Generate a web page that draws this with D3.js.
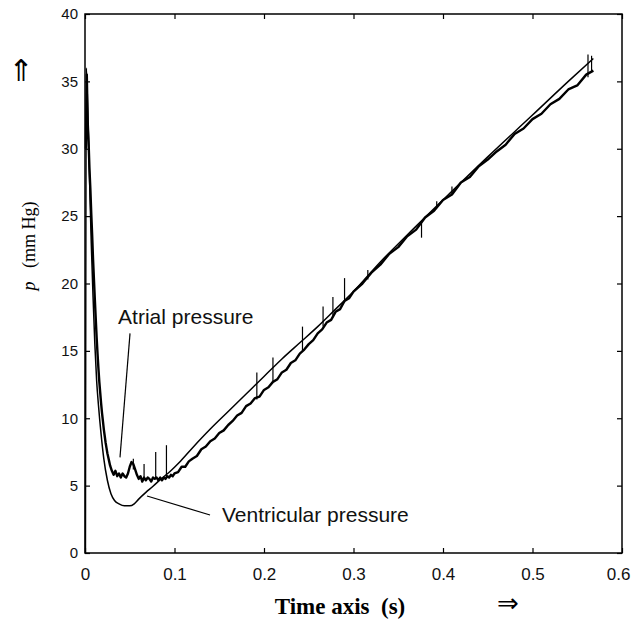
<!DOCTYPE html>
<html>
<head>
<meta charset="utf-8">
<script src="https://cdn.jsdelivr.net/npm/d3@7"></script>
<style>
  body { margin: 0; background: #fff; }
  svg { display: block; }
</style>
</head>
<body>
<svg id="chart" width="632" height="620" viewBox="0 0 632 620"></svg>
<script>
// --- data (time in s, pressure in mm Hg) ---
const xTicks = [0, 0.1, 0.2, 0.3, 0.4, 0.5, 0.6];
const yTicks = [0, 5, 10, 15, 20, 25, 30, 35, 40];

// ventricular pressure (smooth trace)
const ventT = [0.0005, 0.0015, 0.003, 0.005, 0.007, 0.009, 0.011, 0.013, 0.015, 0.018, 0.021, 0.025, 0.029, 0.033, 0.038, 0.044, 0.050, 0.055, 0.060, 0.068, 0.076, 0.085, 0.095, 0.105, 0.120, 0.140, 0.160, 0.180, 0.200, 0.220, 0.240, 0.260, 0.280, 0.300, 0.330, 0.360, 0.400, 0.450, 0.500, 0.540, 0.568];
const ventP = [0.0, 36.0, 33.0, 28.0, 23.0, 19.0, 15.5, 12.8, 11.0, 8.8, 7.0, 5.4, 4.4, 3.9, 3.65, 3.5, 3.5, 3.65, 4.0, 4.5, 4.95, 5.5, 6.05, 6.7, 7.8, 9.2, 10.5, 11.8, 13.1, 14.4, 15.6, 16.8, 18.1, 19.4, 21.6, 23.6, 26.2, 29.4, 32.5, 35.0, 36.7];

// atrial pressure (noisy trace)
const atrT = [0.001, 0.002, 0.003, 0.004, 0.005, 0.006, 0.007, 0.008, 0.009, 0.010, 0.011, 0.012, 0.013, 0.014, 0.015, 0.016, 0.017, 0.018, 0.019, 0.020, 0.021, 0.022, 0.023, 0.024, 0.025, 0.026, 0.027, 0.028, 0.029, 0.030,
  0.032, 0.034, 0.036, 0.038, 0.040, 0.042, 0.044, 0.046, 0.048, 0.050, 0.052, 0.054, 0.056, 0.058, 0.060, 0.062, 0.064, 0.066, 0.068, 0.070, 0.072, 0.074, 0.076, 0.078, 0.080, 0.082, 0.084, 0.086, 0.088, 0.090, 0.092, 0.094, 0.096, 0.098, 0.100,
  0.104, 0.108, 0.112, 0.116, 0.120, 0.125, 0.130, 0.135, 0.140, 0.145, 0.150, 0.155, 0.160, 0.165, 0.170, 0.175, 0.180, 0.185, 0.190, 0.195, 0.200, 0.205, 0.210, 0.215, 0.220, 0.225, 0.230, 0.235, 0.240, 0.245, 0.250, 0.255, 0.260, 0.265, 0.270, 0.275, 0.280, 0.285, 0.290, 0.295, 0.300,
  0.310, 0.320, 0.330, 0.340, 0.350, 0.360, 0.370, 0.380, 0.390, 0.400, 0.410, 0.420, 0.430, 0.440, 0.450, 0.460, 0.470, 0.480, 0.490, 0.500, 0.510, 0.520, 0.530, 0.540, 0.550, 0.560, 0.568];
const atrP = [30.0, 35.5, 32.0, 30.5, 28.5, 27.0, 25.2, 23.6, 21.8, 20.3, 18.8, 17.4, 16.0, 14.8, 13.7, 12.7, 11.9, 11.1, 10.4, 9.8, 9.2, 8.7, 8.2, 7.8, 7.4, 7.1, 6.8, 6.5, 6.3, 6.1,
  5.8, 6.1, 5.7, 5.9, 5.6, 5.9, 5.7, 5.6, 5.9, 6.4, 6.75, 6.6, 6.2, 5.8, 5.5, 5.7, 5.3, 5.6, 5.4, 5.6, 5.5, 5.3, 5.6, 5.5, 5.6, 5.4, 5.6, 5.4, 5.6, 5.5, 5.7, 5.6, 5.8, 5.7, 5.9,
  6.0, 6.4, 6.4, 6.8, 7.0, 7.2, 7.7, 7.9, 8.3, 8.5, 8.9, 9.1, 9.5, 9.8, 10.2, 10.4, 10.9, 11.1, 11.5, 11.6, 12.1, 12.3, 12.7, 12.9, 13.4, 13.6, 14.1, 14.3, 14.8, 15.1, 15.5, 15.8, 16.3, 16.6, 17.1, 17.3, 17.9, 18.1, 18.7, 18.9, 19.4,
  20.0, 20.8, 21.4, 22.2, 22.7, 23.5, 24.0, 24.9, 25.4, 26.2, 26.6, 27.5, 27.9, 28.7, 29.2, 29.8, 30.3, 31.1, 31.5, 32.2, 32.6, 33.3, 33.7, 34.4, 34.7, 35.5, 35.8];

// short artefact spikes on the atrial trace: time, low end, high end
const spikeT = [0.054, 0.066, 0.079, 0.091, 0.192, 0.210, 0.243, 0.266, 0.277, 0.290, 0.316, 0.376, 0.393, 0.410, 0.562, 0.566];
const spikeLo = [6.2, 5.5, 5.5, 5.6, 11.4, 12.7, 15.0, 16.8, 17.6, 18.6, 20.3, 23.4, 25.6, 26.6, 35.3, 35.7];
const spikeHi = [7.0, 6.6, 7.5, 8.0, 13.4, 14.5, 16.8, 18.3, 19.0, 20.4, 21.0, 24.6, 26.1, 27.2, 37.0, 36.9];

// annotation labels and pointer ends (data coords)
const notes = [
  { text: "Atrial pressure", tx: 0.0370, ty: 17.0, from: [0.0503, 16.3], to: [0.0391, 7.1] },
  { text: "Ventricular pressure", tx: 0.1531, ty: 2.3, from: [0.1397, 2.82], to: [0.0693, 4.23] }
];

const svg = d3.select("#chart");
const margin = { left: 85, right: 10, top: 14, bottom: 67 };
const width = 632, height = 620;

const x = d3.scaleLinear().domain([0, 0.6]).range([margin.left, width - margin.right]);
const y = d3.scaleLinear().domain([0, 40]).range([height - margin.bottom, margin.top]);

const sans = "'Liberation Sans', Arial, Helvetica, sans-serif";
const serif = "'Liberation Serif', 'Times New Roman', serif";

// --- axes: inward ticks on all four sides ---
const fmtX = d => d === 0 ? "0" : d3.format(".1f")(d);
const axB = svg.append("g").attr("transform", `translate(0,${y(0)})`)
  .call(d3.axisBottom(x).tickValues(xTicks).tickSizeInner(-5).tickSizeOuter(0).tickPadding(15).tickFormat(fmtX));
const axL = svg.append("g").attr("transform", `translate(${x(0)},0)`)
  .call(d3.axisLeft(y).tickValues(yTicks).tickSizeInner(-5).tickSizeOuter(0).tickPadding(7).tickFormat(d3.format("d")));
const axT = svg.append("g").attr("transform", `translate(0,${y(40)})`)
  .call(d3.axisTop(x).tickValues(xTicks).tickSizeInner(-5).tickSizeOuter(0).tickFormat(""));
const axR = svg.append("g").attr("transform", `translate(${x(0.6)},0)`)
  .call(d3.axisRight(y).tickValues(yTicks).tickSizeInner(-5).tickSizeOuter(0).tickFormat(""));

[axB, axL, axT, axR].forEach(a => {
  a.select(".domain").remove();
  a.selectAll(".tick line").attr("stroke", "#000").attr("stroke-width", 1.2);
});
axB.selectAll("text").style("font-family", sans).style("font-size", "17px").attr("fill", "#111");
// last label sits against the page edge, keep it inside
axB.selectAll(".tick").filter(d => d === 0.6).select("text").attr("text-anchor", "end").attr("x", 8);
axL.selectAll("text").style("font-family", sans).style("font-size", "15px").attr("fill", "#111");

// frame
svg.append("rect")
  .attr("x", x(0)).attr("y", y(40))
  .attr("width", x(0.6) - x(0)).attr("height", y(0) - y(40))
  .attr("fill", "none").attr("stroke", "#000").attr("stroke-width", 1.5);

// --- traces ---
const ventData = ventT.map((t, i) => [t, ventP[i]]);
const atrData = atrT.map((t, i) => [t, atrP[i]]);

svg.append("path")
  .datum(ventData)
  .attr("fill", "none").attr("stroke", "#000").attr("stroke-width", 1.5)
  .attr("d", d3.line().x(d => x(d[0])).y(d => y(d[1])).curve(d3.curveMonotoneX));

svg.append("path")
  .datum(atrData)
  .attr("fill", "none").attr("stroke", "#000").attr("stroke-width", 2.4)
  .attr("stroke-linejoin", "round")
  .attr("d", d3.line().x(d => x(d[0])).y(d => y(d[1])));

svg.selectAll(".spike")
  .data(spikeT)
  .join("line")
  .attr("class", "spike")
  .attr("x1", d => x(d)).attr("x2", d => x(d))
  .attr("y1", (d, i) => y(spikeLo[i])).attr("y2", (d, i) => y(spikeHi[i]))
  .attr("stroke", "#000").attr("stroke-width", 1.2);

// --- annotations ---
notes.forEach(n => {
  svg.append("line")
    .attr("x1", x(n.from[0])).attr("y1", y(n.from[1]))
    .attr("x2", x(n.to[0])).attr("y2", y(n.to[1]))
    .attr("stroke", "#000").attr("stroke-width", 1.2);
  svg.append("text")
    .attr("x", x(n.tx)).attr("y", y(n.ty))
    .style("font-family", sans).style("font-size", "21px")
    .attr("fill", "#111")
    .text(n.text);
});

// --- axis titles and arrows ---
svg.append("text")
  .attr("x", 340).attr("y", 614)
  .attr("text-anchor", "middle")
  .style("font-family", serif).style("font-size", "23px").style("font-weight", "bold")
  .attr("xml:space", "preserve")
  .text("Time axis  (s)");

svg.append("text")
  .attr("x", 508).attr("y", 612)
  .attr("text-anchor", "middle")
  .style("font-family", "'DejaVu Sans', sans-serif").style("font-size", "26px")
  .text("⇒");

svg.append("text")
  .attr("x", 21).attr("y", 81)
  .attr("text-anchor", "middle")
  .style("font-family", "'DejaVu Sans', sans-serif").style("font-size", "30px")
  .text("⇑");

const yLab = svg.append("text")
  .attr("transform", "translate(35,246) rotate(-90)")
  .attr("text-anchor", "middle")
  .style("font-family", serif).style("font-size", "18px")
  .attr("xml:space", "preserve");
yLab.append("tspan").style("font-style", "italic").text("p");
yLab.append("tspan").text("   (mm Hg)");
</script>
</body>
</html>
